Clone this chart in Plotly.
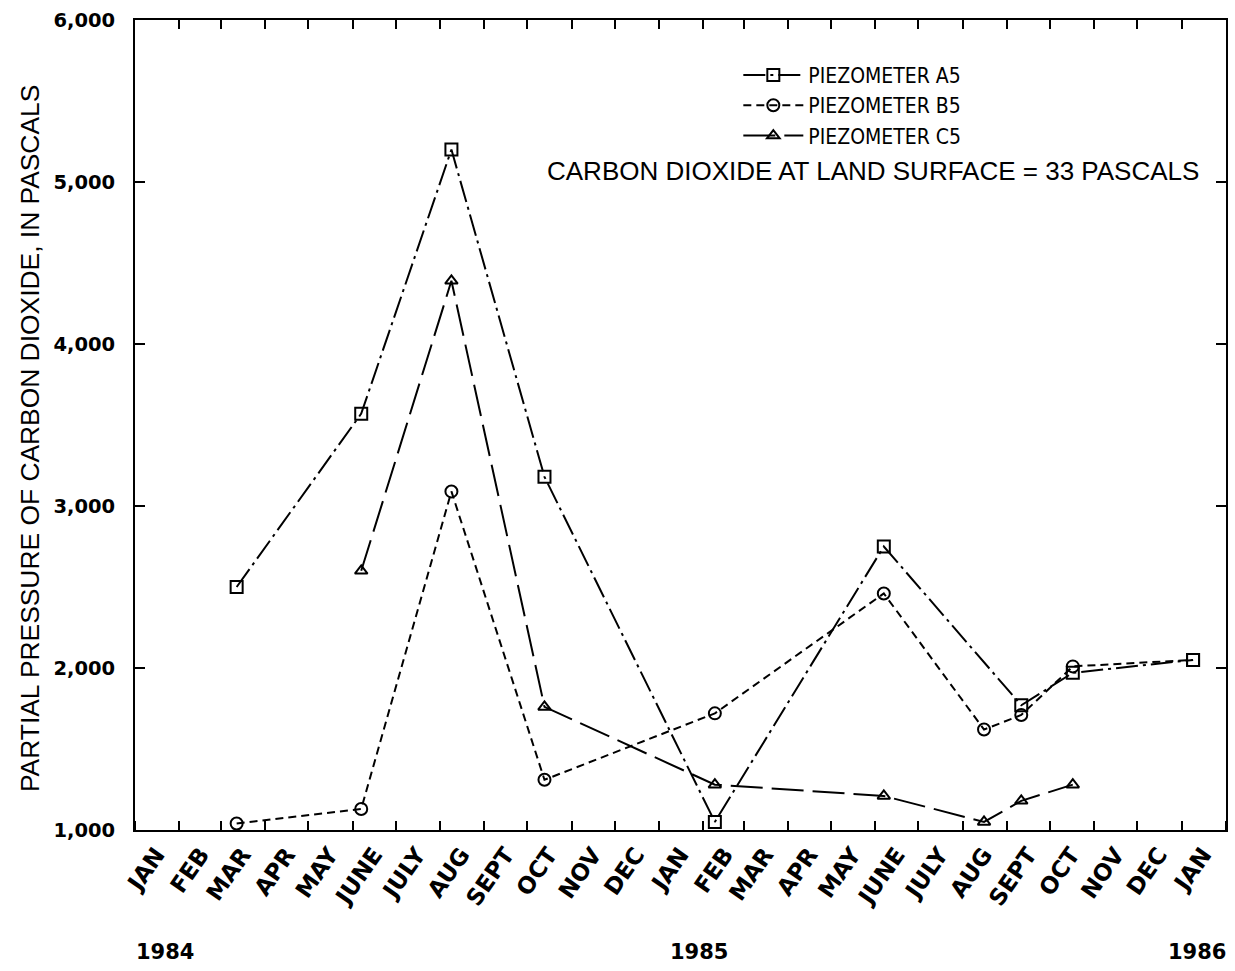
import plotly.graph_objects as go

# ---- data ----
a5_dates = ["1984-03-12", "1984-06-07", "1984-08-09", "1984-10-13", "1985-02-09",
            "1985-06-07", "1985-09-11", "1985-10-17", "1986-01-09"]
a5_values = [2500, 3570, 5200, 3180, 1050, 2750, 1770, 1970, 2050]

b5_dates = ["1984-03-12", "1984-06-07", "1984-08-09", "1984-10-13", "1985-02-09",
            "1985-06-07", "1985-08-16", "1985-09-11", "1985-10-17", "1986-01-09"]
b5_values = [1040, 1130, 3090, 1310, 1720, 2460, 1620, 1710, 2010, 2050]

c5_dates = ["1984-06-07", "1984-08-09", "1984-10-13", "1985-02-09", "1985-06-07",
            "1985-08-16", "1985-09-11", "1985-10-17"]
c5_values = [2600, 4390, 1760, 1280, 1210, 1050, 1180, 1280]

month_names = ["JAN", "FEB", "MAR", "APR", "MAY", "JUNE", "JULY", "AUG", "SEPT",
               "OCT", "NOV", "DEC"]
month_labels = month_names + month_names + ["JAN"]
month_starts = [f"{1984 + i // 12}-{i % 12 + 1:02d}-01" for i in range(26)]
month_mids = [f"{1984 + i // 12}-{i % 12 + 1:02d}-16" for i in range(25)]
y_ticks = [1000, 2000, 3000, 4000, 5000, 6000]
years = ["1984", "1985", "1986"]
year_pos = ["1984-01-22", "1985-01-29", "1986-01-12"]

x_range = ["1984-01-01", "1986-02-01"]

fig = go.Figure()
fig.add_trace(go.Scatter(
    x=a5_dates, y=a5_values, name="PIEZOMETER A5", mode="lines+markers",
    line=dict(color="black", width=2, dash="22px,5px,3px,5px"),
    marker=dict(symbol="square-open", size=12, color="black", line=dict(width=2))))
fig.add_trace(go.Scatter(
    x=b5_dates, y=b5_values, name="PIEZOMETER B5", mode="lines+markers",
    line=dict(color="black", width=2, dash="8px,5px"),
    marker=dict(symbol=["circle-open"] * (len(b5_values) - 1) + ["square-open"],
                size=12, color="black", line=dict(width=2))))
fig.add_trace(go.Scatter(
    x=c5_dates, y=c5_values, name="PIEZOMETER C5", mode="lines+markers",
    line=dict(color="black", width=2, dash="32px,9px"),
    marker=dict(symbol="triangle-up-open", size=11, color="black", line=dict(width=2))))
# invisible carrier so the top (mirrored) month-tick axis is drawn
fig.add_trace(go.Scatter(
    x=a5_dates, y=a5_values, xaxis="x2", mode="markers",
    marker=dict(opacity=0), showlegend=False, hoverinfo="skip"))

fig.update_layout(
    width=1235, height=971,
    margin=dict(l=135, r=7, t=20, b=141),
    paper_bgcolor="white", plot_bgcolor="white",
    showlegend=True,
    legend=dict(x=0.553, y=0.957, xanchor="left", yanchor="top",
                bgcolor="rgba(0,0,0,0)", tracegroupgap=0, itemwidth=60,
                font=dict(family="Liberation Sans Narrow, DejaVu Sans Condensed, sans-serif",
                          size=21, color="black")),
    xaxis=dict(
        type="date", range=x_range,
        tickmode="array", tickvals=month_mids, ticktext=month_labels,
        ticks="", tickangle=-55,
        tickfont=dict(family="DejaVu Sans", size=23, color="black", weight="bold"),
        showline=True, linecolor="black", linewidth=2, mirror=True,
        showgrid=False, zeroline=False,
        minor=dict(tickmode="array", tickvals=month_starts, ticks="inside",
                   ticklen=9, tickwidth=2, tickcolor="black", showgrid=False),
    ),
    xaxis2=dict(
        type="date", range=x_range, overlaying="x", side="top", anchor="y",
        tickmode="array", tickvals=month_starts, ticks="inside", ticklen=9,
        tickwidth=2, tickcolor="black", showticklabels=False,
        showline=False, showgrid=False, zeroline=False,
    ),
    yaxis=dict(
        range=[1000, 6000], tickmode="array", tickvals=y_ticks, tickformat=",",
        ticks="inside", ticklen=10, tickwidth=2, tickcolor="black",
        showline=True, linecolor="black", linewidth=2, mirror="ticks",
        showgrid=False, zeroline=False, ticklabelstandoff=14,
        tickfont=dict(family="DejaVu Sans", size=19.5, color="black", weight="bold"),
    ),
)

fig.add_annotation(text="PARTIAL PRESSURE OF CARBON DIOXIDE, IN PASCALS",
                   xref="paper", yref="paper", x=-0.096, y=0.483,
                   xanchor="center", yanchor="middle", textangle=-90,
                   showarrow=False,
                   font=dict(family="Liberation Sans, Arial, sans-serif", size=26.4,
                             color="black"))

fig.add_annotation(text="CARBON DIOXIDE AT LAND SURFACE = 33 PASCALS",
                   xref="paper", yref="paper", x=0.977, y=0.814,
                   xanchor="right", yanchor="middle", showarrow=False,
                   font=dict(family="Liberation Sans, Arial, sans-serif",
                             size=26, color="black"))

for yr, pos in zip(years, year_pos):
    fig.add_annotation(text=yr, xref="x", yref="paper", x=pos, y=-0.151,
                       xanchor="center", yanchor="middle", showarrow=False,
                       font=dict(family="DejaVu Sans", size=21, color="black",
                                 weight="bold"))

fig.write_html("out.html")
